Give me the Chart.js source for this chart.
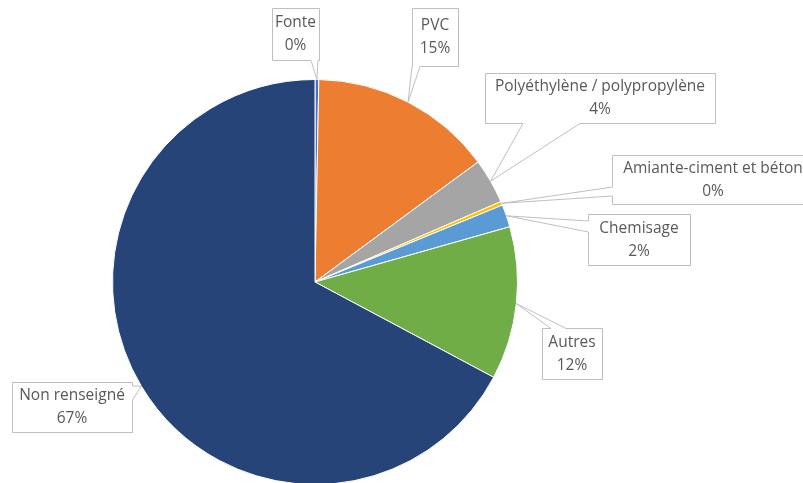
<!DOCTYPE html>
<html>
<head>
<meta charset="utf-8">
<script src="https://cdn.jsdelivr.net/npm/chart.js@4"></script>
<style>
  html, body { margin: 0; padding: 0; background: #fff; overflow: hidden; }
  #wrap { width: 803px; height: 490px; }
</style>
</head>
<body>
<div id="wrap"><canvas id="pieChart" width="803" height="490"></canvas></div>
<script>
const categories = ["Fonte", "PVC", "Polyéthylène / polypropylène", "Amiante-ciment et béton", "Chemisage", "Autres", "Non renseigné"];
const shares = [0.3, 14.6, 3.6, 0.3, 1.8, 12.2, 67.2];
const sliceColors = ["#4472C4", "#ED7D31", "#A5A5A5", "#FFC000", "#5B9BD5", "#70AD47", "#264478"];

// callout boxes, same order as categories
const callouts = [
  { box: [272, 8, 47, 52], side: "bottom", base: [311, 318] },
  { box: [412, 8, 46, 58], side: "bottom", base: [412, 420] },
  { box: [485, 73, 230, 50], side: "bottom", base: [523, 580] },
  { box: [612, 155, 202, 49], side: "left", base: [187, 196] },
  { box: [588, 214, 102, 51], side: "left", base: [221, 232] },
  { box: [542, 328, 60, 51], side: "top", base: [551, 566] },
  { box: [12, 382, 120, 50], side: "right", base: [386, 400] },
];

const calloutPlugin = {
  id: "callouts",
  afterDatasetsDraw(chart) {
    const ctx = chart.ctx;
    const meta = chart.getDatasetMeta(0);
    ctx.save();
    meta.data.forEach((arc, i) => {
      const c = callouts[i];
      const mid = (arc.startAngle + arc.endAngle) / 2;
      const ax = arc.x + Math.cos(mid) * arc.outerRadius;
      const ay = arc.y + Math.sin(mid) * arc.outerRadius;
      const [x0, y0, w, h] = c.box;
      const x = x0 + 0.5, y = y0 + 0.5, r = x + w, b = y + h;
      const [b1, b2] = c.base;
      ctx.beginPath();
      ctx.moveTo(x, y);
      if (c.side === "top") { ctx.lineTo(b1, y); ctx.lineTo(ax, ay); ctx.lineTo(b2, y); }
      ctx.lineTo(r, y);
      if (c.side === "right") { ctx.lineTo(r, b1); ctx.lineTo(ax, ay); ctx.lineTo(r, b2); }
      ctx.lineTo(r, b);
      if (c.side === "bottom") { ctx.lineTo(b2, b); ctx.lineTo(ax, ay); ctx.lineTo(b1, b); }
      ctx.lineTo(x, b);
      if (c.side === "left") { ctx.lineTo(x, b2); ctx.lineTo(ax, ay); ctx.lineTo(x, b1); }
      ctx.closePath();
      ctx.fillStyle = "#fff";
      ctx.fill();
      ctx.strokeStyle = "#BFBFBF";
      ctx.lineWidth = 1;
      ctx.stroke();

      ctx.fillStyle = "#595959";
      ctx.font = '15.5px "Open Sans", sans-serif';
      ctx.textAlign = "center";
      ctx.textBaseline = "middle";
      const cx = x0 + w / 2;
      const cy = y0 + h / 2;
      ctx.fillText(categories[i], cx, cy - 11);
      ctx.fillText(Math.round(shares[i]) + "%", cx, cy + 12);
    });
    ctx.restore();
  }
};

new Chart(document.getElementById("pieChart").getContext("2d"), {
  type: "pie",
  data: {
    labels: categories,
    datasets: [{
      data: shares,
      backgroundColor: sliceColors,
      borderColor: "#fff",
      borderWidth: 1,
    }],
  },
  options: {
    responsive: false,
    animation: false,
    layout: { padding: { top: 79, bottom: 5, left: 112, right: 285 } },
    plugins: {
      legend: { display: false },
      tooltip: { enabled: false },
    },
  },
  plugins: [calloutPlugin],
});
</script>
</body>
</html>
